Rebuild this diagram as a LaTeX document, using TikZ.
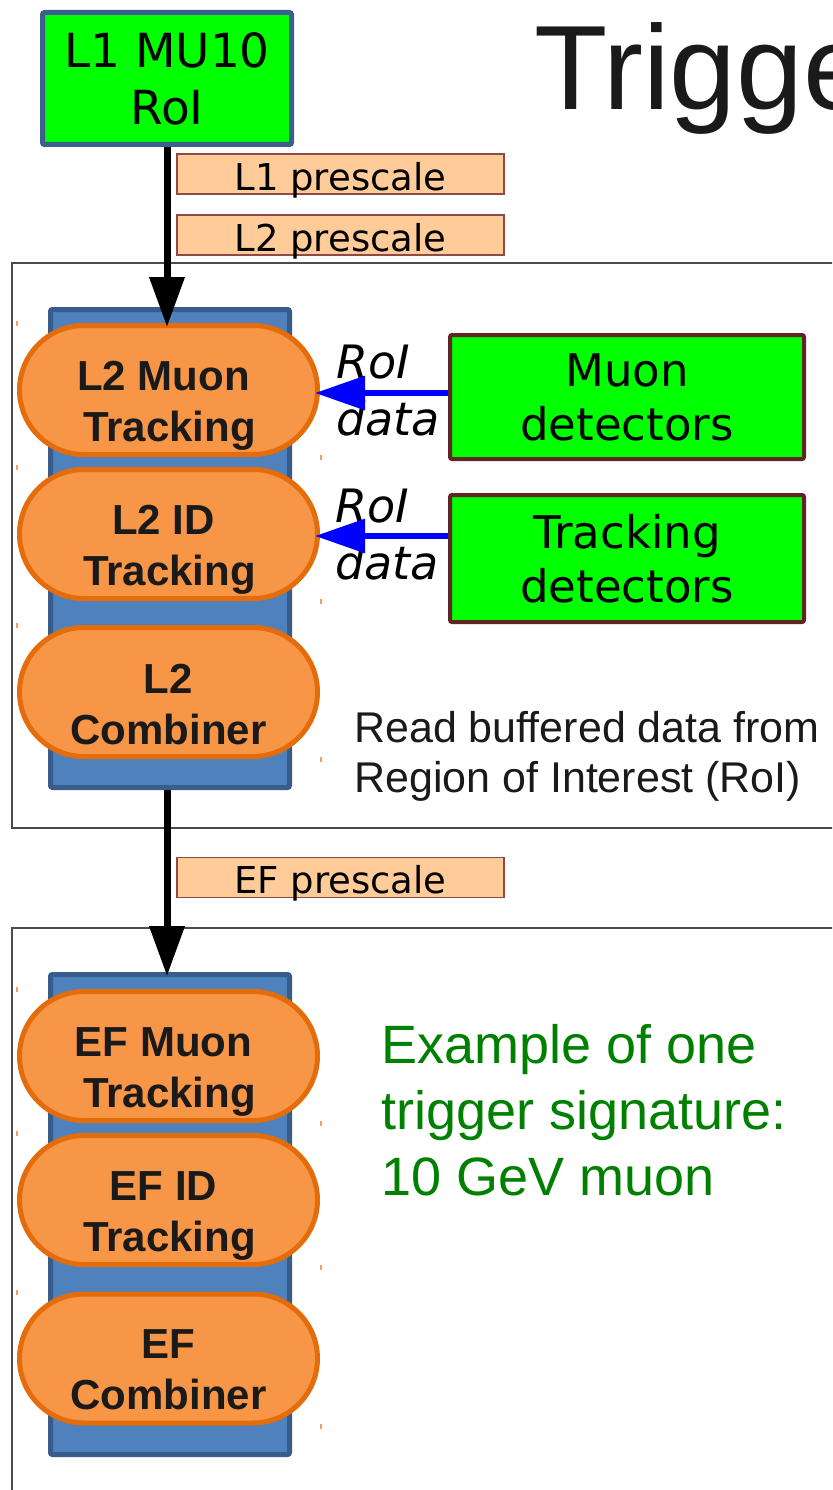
\documentclass[tikz,border=0pt]{standalone}
\usepackage{fontspec}
\setmainfont{DejaVu Sans}
\newfontfamily\libsans{Liberation Sans}
\usetikzlibrary{arrows.meta,shapes.misc,calc}
\definecolor{boxgreen}{HTML}{00FF00}
\definecolor{lone}{HTML}{3C5F8F}
\definecolor{detborder}{HTML}{632523}
\definecolor{psfill}{HTML}{FFCC99}
\definecolor{psborder}{HTML}{8E4A45}
\definecolor{colfill}{HTML}{4F81BD}
\definecolor{colborder}{HTML}{385D8A}
\definecolor{stfill}{HTML}{F79646}
\definecolor{stborder}{HTML}{E46C0A}
\definecolor{textdark}{HTML}{1A1A1A}
\definecolor{arrowblue}{HTML}{0000FF}
\definecolor{greentext}{HTML}{008000}
\definecolor{tickcol}{HTML}{F0A060}
\begin{document}
\begin{tikzpicture}[x=1pt,y=-1pt,
  frame/.style={draw=black!70, line width=1.5pt},
  l1box/.style={draw=lone, fill=boxgreen, line width=5pt, rounded corners=2pt,
    minimum width=249pt, minimum height=132pt, align=center, inner sep=0pt,
    font=\fontsize{47}{57}\selectfont},
  detbox/.style={draw=detborder, fill=boxgreen, line width=4pt, rounded corners=2pt,
    minimum width=354pt, align=center, inner sep=0pt,
    font=\fontsize{45}{54}\selectfont},
  prescale/.style={draw=psborder, fill=psfill, line width=1.2pt,
    minimum width=327pt, minimum height=40pt, text height=32pt, text depth=0pt,
    inner sep=0pt, font=\fontsize{37}{44}\selectfont},
  column/.style={draw=colborder, fill=colfill, line width=5pt, rounded corners=2pt,
    minimum width=239pt, inner sep=0pt},
  stadium/.style={rounded rectangle, draw=stborder, fill=stfill, line width=5pt,
    minimum width=298pt, minimum height=129pt, inner sep=0pt},
  etext/.style={text=textdark, inner sep=0pt, anchor=base,
    font=\libsans\bfseries\fontsize{42}{51}\selectfont},
  roi/.style={inner sep=0pt, anchor=base west, font=\itshape\fontsize{46}{57}\selectfont},
  plain/.style={inner sep=0pt, anchor=base west, text=textdark,
    font=\libsans\fontsize{43}{50}\selectfont},
  greenlbl/.style={inner sep=0pt, anchor=base west, text=greentext,
    font=\libsans\fontsize{54}{66}\selectfont},
  titlestyle/.style={inner sep=0pt, anchor=base west, text=textdark,
    font=\libsans\fontsize{120}{140}\selectfont},
  bluearrow/.style={draw=arrowblue, line width=6pt, -{Triangle[length=50pt,width=33pt]}},
  blackarrow/.style={draw=black, line width=7pt, -{Triangle[length=50pt,width=34pt]}},
  tickmark/.style={draw=tickcol, line width=1.5pt}
]
\useasboundingbox (0,0) rectangle (832,1490);
\clip (0,0) rectangle (832,1490);
\fill[white] (0,0) rectangle (832,1490);

% frames
\draw[frame] (12,263) rectangle (850,828);
\draw[frame] (12,928) rectangle (850,1510);

% title
\node[titlestyle] (title) at (534,110) {Trigger};

% L1 box
\node[l1box] (l1) at (167,78.5) {L1 MU10\\RoI};

% prescales
\node[prescale] (p1) at (340.5,174) {L1 prescale};
\node[prescale] (p2) at (340.5,235) {L2 prescale};
\node[prescale] (p3) at (340.5,877.5) {EF prescale};

% columns
\node[column, minimum height=478pt] (col1) at (170,548.5) {};
\node[column, minimum height=480pt] (col2) at (170,1214.5) {};

% stadiums
\node[stadium] (l2mu) at (168.5,390) {};
\node[stadium] (l2id) at (168.5,534) {};
\node[stadium] (l2co) at (168.5,692) {};
\node[stadium] (efmu) at (168.5,1056) {};
\node[stadium] (efid) at (168.5,1200) {};
\node[stadium] (efco) at (168.5,1358.5) {};

\foreach \s in {l2mu,l2id,l2co,efmu,efid,efco}{
  \draw[tickmark] ([yshift=2pt]\s.west |- \s.north) -- ++(0,5);
  \draw[tickmark] ([xshift=1pt,yshift=2pt]\s.east |- \s.south) -- ++(0,5);
}

\node[etext] (l2mu-t) at ([xshift=1pt]l2mu.center) {\begin{tabular}[t]{@{}c@{}}L2 Muon\hspace*{12pt}\\Tracking\end{tabular}};
\node[etext] (l2id-t) at ([xshift=1pt]l2id.center) {\begin{tabular}[t]{@{}c@{}}L2 ID\hspace*{12pt}\\Tracking\end{tabular}};
\node[etext] (l2co-t) at ([yshift=-1pt]l2co.center) {\begin{tabular}[t]{@{}c@{}}L2\\Combiner\end{tabular}};
\node[etext] (efmu-t) at ([xshift=1pt]efmu.center) {\begin{tabular}[t]{@{}c@{}}EF Muon\hspace*{12pt}\\Tracking\end{tabular}};
\node[etext] (efid-t) at ([xshift=1pt]efid.center) {\begin{tabular}[t]{@{}c@{}}EF ID\hspace*{12pt}\\Tracking\end{tabular}};
\node[etext] (efco-t) at (efco.center) {\begin{tabular}[t]{@{}c@{}}EF\\Combiner\end{tabular}};

% detectors
\node[detbox, minimum height=124pt] (muon) at (627,397) {Muon\\detectors};
\node[detbox, minimum height=127pt] (trk) at (627,558.5) {Tracking\\detectors};

% RoI data labels
\node[roi] (roi1) at (336,378) {\begin{tabular}[t]{@{}l@{}}RoI\\data\end{tabular}};
\node[roi] (roi2) at (335,522) {\begin{tabular}[t]{@{}l@{}}RoI\\data\end{tabular}};

% blue arrows
\draw[bluearrow, shorten >=-5pt] ([yshift=-3pt]l2mu.east -| muon.west) -- ([yshift=-3pt]l2mu.east);
\draw[bluearrow, shorten >=-5pt] ([yshift=-2pt]l2id.east -| trk.west) -- ([yshift=-2pt]l2id.east);

% black arrows
\draw[blackarrow, shorten >=-4pt] (l1.south) -- (l1.south |- l2mu.north);
\draw[blackarrow, shorten >=-4pt] (l1.south |- col1.south) -- (l1.south |- col2.north);

% texts
\node[plain] (readbuf) at (354,742) {\begin{tabular}[t]{@{}l@{}}Read buffered data from\\Region of Interest (RoI)\end{tabular}};
\node[greenlbl] (example) at (381,1063) {\begin{tabular}[t]{@{}l@{}}Example of one\\trigger signature:\\10 GeV muon\end{tabular}};
\end{tikzpicture}
\end{document}
